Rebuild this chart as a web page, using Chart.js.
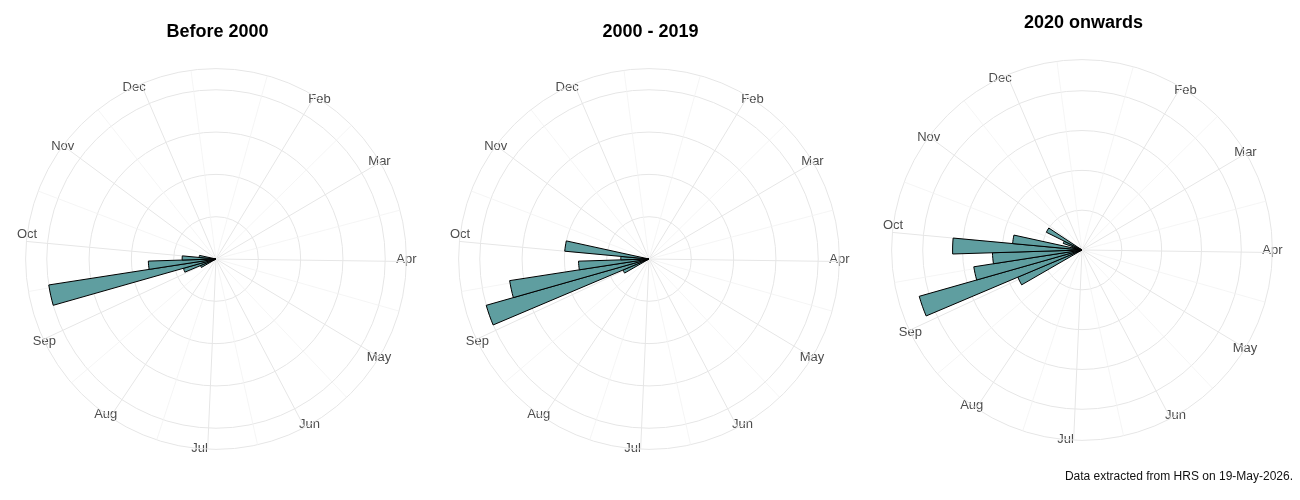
<!DOCTYPE html>
<html>
<head>
<meta charset="utf-8">
<title>Reports by time of year</title>
<script src="https://cdn.jsdelivr.net/npm/chart.js@4.4.1/dist/chart.umd.min.js"></script>
<style>
  html, body { margin: 0; padding: 0; background: #fff; }
  #wrap { position: relative; width: 1300px; height: 500px; overflow: hidden; }
  .panel { position: absolute; width: 433px; height: 500px; }
  #caption {
    position: absolute; right: 7px; top: 469px;
    font: 12px "Liberation Sans", Arial, sans-serif; line-height: 14px; color: #111;
  }
</style>
</head>
<body>
<div id="wrap">
  <div class="panel" style="left:0;top:0"><canvas id="c0"></canvas></div>
  <div class="panel" style="left:433px;top:0"><canvas id="c1"></canvas></div>
  <div class="panel" style="left:866px;top:-9px"><canvas id="c2"></canvas></div>
  <div id="caption">Data extracted from HRS on 19-May-2026.</div>
</div>
<script>
// Tiêu đề các ô
const panelTitles = ['Before 2000', '2000 - 2019', '2020 onwards'];

// Tuần có báo cáo (tuần 0 bắt đầu 1/1) và số lượng mỗi giai đoạn
const weekIndex = [34, 35, 36, 37, 38, 39, 40, 41, 42];
const countsBefore2000 = [1, 2, 10, 4, 2, 1, 0, 0, 0];
const counts2000to2019 = [2, 12, 10, 5, 2, 6, 0, 0, 0];
const counts2020on = [7, 17, 11, 9, 13, 7, 1, 2, 4];

// Khoảng cách vòng lưới của từng ô
const gridSteps = [2.5, 3, 4];

// Trục tháng: tên và ngày đầu tháng (1/1 = 0)
const monthNames = ['Jan', 'Feb', 'Mar', 'Apr', 'May', 'Jun', 'Jul', 'Aug', 'Sep', 'Oct', 'Nov', 'Dec'];
const monthStart = [0, 31, 59, 90, 120, 151, 181, 212, 243, 273, 304, 334];

const WEEKS = 51;           // vòng tròn phủ 51 tuần = 357 ngày
const DAYS = WEEKS * 7;
const SLOTS = DAYS * 2;     // vị trí nửa ngày, dùng cho đường lưới và nhãn

const FONT = '"Liberation Sans", Arial, sans-serif';
const LABEL_SIZE = 13;
const LINE_H = LABEL_SIZE * 1.2;
Chart.defaults.font.family = FONT;

// Jan nằm ngay điểm đầu trục nên không vẽ (giống bản gốc)
const majorSlots = new Set(monthStart.slice(1).map(d => d * 2));
const minorSlots = new Set(monthStart.map((d, i) => d + (i < 11 ? monthStart[i + 1] : 365)));

// Chart.js chỉ căn giữa nhãn theo chiều dọc khi góc đúng 90/270 độ
function labelSlot(day) {
  const slot = day * 2;
  const deg = slot * 360 / SLOTS;
  const quarter = Math.round(deg / 90) * 90;
  return Math.abs(deg - quarter) < 1.5 ? Math.round(quarter * SLOTS / 360) : slot;
}

const slotLabels = new Array(SLOTS).fill('');
monthStart.forEach((d, i) => {
  if (i > 0) slotLabels[labelSlot(d)] = monthNames[i];
});

const measureCtx = document.createElement('canvas').getContext('2d');
measureCtx.font = LABEL_SIZE + 'px ' + FONT;

// Đặt tâm nhãn lên vòng ngoài cùng (như ggplot)
function labelPadding(ctx) {
  if (!ctx.label) return -LINE_H;
  const rad = ctx.index * 2 * Math.PI / SLOTS;
  const deg = Math.round(ctx.index * 360 / SLOTS) % 360;
  const ux = Math.sin(rad), uy = -Math.cos(rad);
  const w = measureCtx.measureText(ctx.label).width;
  const sx = (deg === 0 || deg === 180) ? 0 : (deg < 180 ? 1 : -1);
  const sy = (deg === 90 || deg === 270) ? 0 : ((deg > 270 || deg < 90) ? -1 : 1);
  return -(sx * w / 2 * ux + sy * LINE_H / 2 * uy);
}

function makePanel(canvasId, title, counts, step) {
  const data = new Array(WEEKS).fill(0);
  weekIndex.forEach((w, i) => { data[w] = counts[i]; });

  const maxCount = Math.max(...counts);
  const outer = maxCount * 1.125;   // dữ liệu chiếm 0.4 trên bán kính 0.45
  const rings = [];
  for (let v = 0; v <= maxCount + 1e-9; v += step) rings.push(v);
  rings.push(outer);

  return new Chart(document.getElementById(canvasId), {
    type: 'polarArea',
    data: {
      labels: slotLabels,
      datasets: [{
        data: data,
        backgroundColor: '#5F9EA0',
        borderColor: '#000000',
        borderWidth: 1
      }]
    },
    options: {
      responsive: true,
      maintainAspectRatio: false,
      animation: false,
      events: [],
      layout: { padding: { left: 17.5, right: 15.5, top: 0, bottom: 32 } },
      plugins: {
        legend: { display: false },
        tooltip: { enabled: false },
        title: {
          display: true,
          text: title,
          color: '#000',
          font: { family: FONT, size: 18, weight: 'bold' },
          padding: { top: 21.5, bottom: 7.5 }
        }
      },
      scales: {
        r: {
          min: 0,
          max: outer,
          startAngle: 0,
          ticks: { display: false },
          afterBuildTicks: scale => { scale.ticks = rings.map(v => ({ value: v })); },
          grid: { circular: true, color: '#e6e6e6', lineWidth: 1 },
          angleLines: {
            display: true,
            color: c => majorSlots.has(c.index) ? '#e6e6e6' : '#f2f2f2',
            lineWidth: c => majorSlots.has(c.index) ? 1 : (minorSlots.has(c.index) ? 0.8 : 0)
          },
          pointLabels: {
            display: true,
            color: '#4d4d4d',
            font: { family: FONT, size: LABEL_SIZE },
            padding: labelPadding
          }
        }
      }
    }
  });
}

makePanel('c0', panelTitles[0], countsBefore2000, gridSteps[0]);
makePanel('c1', panelTitles[1], counts2000to2019, gridSteps[1]);
makePanel('c2', panelTitles[2], counts2020on, gridSteps[2]);
</script>
</body>
</html>
